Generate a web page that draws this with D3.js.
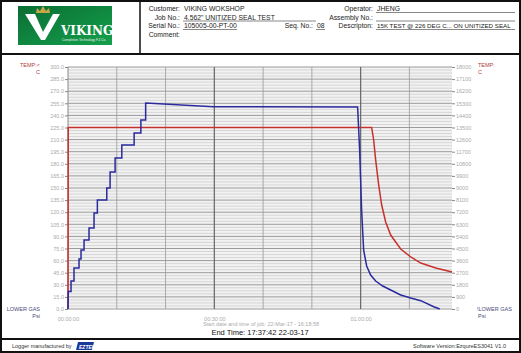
<!DOCTYPE html>
<html>
<head>
<title>Seal test chart</title>
<script src="https://d3js.org/d3.v7.min.js"></script>
<style>
	body { margin: 0; background: #fff; }
	svg { display: block; font-family: Arial, "Liberation Sans", sans-serif; }
	.tick text { fill: #aaa; font-size: 5.5px; }
	.axis .domain { display: none; }
	.axis .tick line { stroke: #888; }
	.hdr { font-size: 6.8px; fill: #222; }
</style>
</head>
<body>
<svg width="521" height="353"></svg>
<script>
var width = 521, height = 353;

// header info
var headerLeft = [
	["Customer:", "VIKING WOKSHOP"],
	["Job No.:", "4.562\" UNITIZED SEAL TEST"],
	["Serial No.:", "105005-00-PT-00"],
	["Comment:", ""]
];
var headerRight = [
	["Operator:", "JHENG"],
	["Assembly No.:", ""],
	["Descripton:", "15K TEST @ 226 DEG C... ON UNITIZED SEAL"]
];

// time in minutes from start of job
var totalMinutes = 78.73;
var timeTicks = [0, 30, 60];
var gridMinutes = [10, 20, 30, 40, 50, 60, 70];
var tempTicks = d3.range(0, 301, 15);
var psiTicks = d3.range(0, 18001, 900);

// lower gas pressure (psi, right axis)
var psiTime = [0, 0.06, 0.62, 0.62, 1.23, 1.23, 2.26, 2.26, 2.67, 2.67, 3.29, 3.29, 4.31, 4.31,
	5.34, 5.34, 6.02, 6.02, 7.95, 7.95, 8.63, 8.63, 9.66, 9.66, 11.03, 11.03, 13.56, 13.56,
	14.94, 14.94, 15.92, 15.92, 29.8, 59.38, 59.79, 60.2, 60.61, 61.23, 62.05, 63.08, 64.52, 66.16,
	68.21, 70.27, 72.32, 74.99, 76.22];
var psiValues = [0, 1300, 1300, 2080, 2080, 3050, 3050, 3720, 3720, 4390, 4390, 5130, 5130, 6025,
	6025, 7140, 7140, 8110, 8110, 9000, 9000, 10190, 10190, 11230, 11230, 12200, 12200, 13090,
	13090, 14060, 14060, 15320, 15050, 15025, 11830, 7360, 4390, 3200, 2530, 2080, 1710, 1410,
	1040, 820, 620, 170, 0];

// temperature (deg C, left axis)
var tempTime = [0, 0.05, 62.26, 62.67, 63.08, 63.7, 64.31, 65.13, 66.16, 68.21, 70.27, 72.32, 75.4, 78.73];
var tempValues = [0, 225, 225, 209.5, 184.7, 153.7, 128.9, 107.8, 91.7, 74.4, 64.5, 57, 50.8, 45.9];

var svg = d3.select('svg');

var plotL = 68, plotR = 452, plotT = 67, plotB = 309;

var x = d3.scaleLinear().domain([0, totalMinutes]).range([plotL, plotR]);
var yTemp = d3.scaleLinear().domain([0, 300]).range([plotB, plotT]);
var yPsi = d3.scaleLinear().domain([0, 18000]).range([plotB, plotT]);

function hms(m) {
	var s = Math.round(m * 60);
	var h = Math.floor(s / 3600), mm = Math.floor((s % 3600) / 60), ss = s % 60;
	return d3.format("02")(h) + ":" + d3.format("02")(mm) + ":" + d3.format("02")(ss);
}

// frame
svg.append('rect').attr('x', 1).attr('y', 1).attr('width', width - 2).attr('height', height - 2)
	.attr('fill', 'none').attr('stroke', '#111').attr('stroke-width', 2);
svg.append('line').attr('x1', 1).attr('x2', width - 1).attr('y1', 54).attr('y2', 54)
	.attr('stroke', '#111').attr('stroke-width', 2);
svg.append('line').attr('x1', 140).attr('x2', 140).attr('y1', 1).attr('y2', 54)
	.attr('stroke', '#111').attr('stroke-width', 1.5);
svg.append('line').attr('x1', 1).attr('x2', width - 1).attr('y1', 339).attr('y2', 339)
	.attr('stroke', '#111').attr('stroke-width', 2);

// logo
var grad = svg.append('defs').append('linearGradient').attr('id', 'lg')
	.attr('x1', 0).attr('y1', 0).attr('x2', 1).attr('y2', 1);
grad.append('stop').attr('offset', 0).attr('stop-color', '#0b6e34');
grad.append('stop').attr('offset', 1).attr('stop-color', '#14a04c');
var logo = svg.append('g');
logo.append('rect').attr('x', 18).attr('y', 6).attr('width', 94).attr('height', 39).attr('fill', 'url(#lg)');
logo.append('path').attr('d', 'M25,14 L35,14 L43,32 L53,14 L60,14 L45,40 L41,40 Z').attr('fill', '#fff');
logo.append('path').attr('d', 'M36,13 L37,8 L40,11 L43,6 L46,11 L49,8 L50,13 Z').attr('fill', '#c9a545');
logo.append('text').attr('x', 61).attr('y', 35).attr('fill', '#fff')
	.style('font-family', '"DejaVu Serif", "Liberation Serif", serif').style('font-weight', 'bold')
	.style('font-size', '12px').text('VIKING');
logo.append('text').attr('x', 62).attr('y', 41).attr('fill', '#e8f0e8')
	.style('font-size', '3.2px').text('Completion Technology F.Z.Co.');

// header fields
headerLeft.forEach(function(d, i) {
	var yy = 11 + i * 8.5;
	svg.append('text').attr('class', 'hdr').attr('x', 180).attr('y', yy).attr('text-anchor', 'end').text(d[0]);
	svg.append('text').attr('class', 'hdr').attr('x', 184).attr('y', yy).text(d[1]);
});
svg.append('line').attr('x1', 183).attr('x2', 316).attr('y1', 21).attr('y2', 21).attr('stroke', '#555').attr('stroke-width', 0.7);
svg.append('line').attr('x1', 183).attr('x2', 237).attr('y1', 29.5).attr('y2', 29.5).attr('stroke', '#555').attr('stroke-width', 0.7);
svg.append('text').attr('class', 'hdr').attr('x', 313).attr('y', 28).attr('text-anchor', 'end').text('Seq. No.:');
svg.append('text').attr('class', 'hdr').attr('x', 317).attr('y', 28).text('08');
svg.append('line').attr('x1', 316).attr('x2', 325).attr('y1', 29.5).attr('y2', 29.5).attr('stroke', '#555').attr('stroke-width', 0.7);

headerRight.forEach(function(d, i) {
	var yy = 11 + i * 8.5;
	svg.append('text').attr('class', 'hdr').attr('x', 373).attr('y', yy).attr('text-anchor', 'end').text(d[0]);
	var t = svg.append('text').attr('class', 'hdr').attr('x', 377).attr('y', yy).text(d[1]);
	if (d[1].length > 30) t.style('font-size', '6.2px');
	svg.append('line').attr('x1', 376).attr('x2', 515).attr('y1', yy + 1.5).attr('y2', yy + 1.5)
		.attr('stroke', '#555').attr('stroke-width', 0.7);
});

// plot background and grid
svg.append('rect').attr('x', plotL).attr('y', plotT).attr('width', plotR - plotL).attr('height', plotB - plotT)
	.attr('fill', '#f2f2f2');
var minor = d3.range(0, 300, 3.75).filter(function(v) { return v % 15 !== 0; });
svg.append('g').selectAll('line').data(minor).enter().append('line')
	.attr('x1', plotL).attr('x2', plotR)
	.attr('y1', function(d) { return yTemp(d); }).attr('y2', function(d) { return yTemp(d); })
	.attr('stroke', '#c8c8c8').attr('stroke-width', 0.7);
svg.append('g').selectAll('line').data(tempTicks).enter().append('line')
	.attr('x1', plotL).attr('x2', plotR)
	.attr('y1', function(d) { return yTemp(d); }).attr('y2', function(d) { return yTemp(d); })
	.attr('stroke', '#9a9a9a').attr('stroke-width', 1);
svg.append('g').selectAll('line').data(gridMinutes).enter().append('line')
	.attr('x1', function(d) { return x(d); }).attr('x2', function(d) { return x(d); })
	.attr('y1', plotT).attr('y2', plotB)
	.attr('stroke', function(d) { return d % 30 === 0 ? '#666' : '#999'; })
	.attr('stroke-width', function(d) { return d % 30 === 0 ? 1.2 : 0.8; });
svg.append('line').attr('x1', plotL).attr('x2', plotL).attr('y1', plotT).attr('y2', plotB)
	.attr('stroke', '#888').attr('stroke-width', 1);

// axes
svg.append('g').attr('class', 'axis').attr('transform', 'translate(' + plotL + ',0)')
	.call(d3.axisLeft(yTemp).tickValues(tempTicks).tickFormat(d3.format('.1f')).tickSize(3).tickPadding(1));
svg.append('g').attr('class', 'axis').attr('transform', 'translate(' + plotR + ',0)')
	.call(d3.axisRight(yPsi).tickValues(psiTicks).tickFormat(d3.format('d')).tickSize(3).tickPadding(1));
svg.append('g').attr('class', 'axis').attr('transform', 'translate(0,' + (plotB + 3) + ')')
	.call(d3.axisBottom(x).tickValues(timeTicks).tickFormat(hms).tickSize(0).tickPadding(5));

// series
var tempLine = d3.line()
	.x(function(d) { return x(d[0]); })
	.y(function(d) { return yTemp(d[1]); });
var psiLine = d3.line()
	.x(function(d) { return x(d[0]); })
	.y(function(d) { return yPsi(d[1]); });

svg.append('path').datum(d3.zip(tempTime, tempValues)).attr('d', tempLine)
	.attr('fill', 'none').attr('stroke', '#c8302c').attr('stroke-width', 1.5);
svg.append('path').datum(d3.zip(psiTime, psiValues)).attr('d', psiLine)
	.attr('fill', 'none').attr('stroke', '#2a2a9e').attr('stroke-width', 1.5);

// axis titles
var red = '#b04040', blue = '#4a4a7a';
svg.append('text').attr('x', 40).attr('y', 67).attr('text-anchor', 'end').attr('fill', red).style('font-size', '5.5px').text('TEMP:<');
svg.append('text').attr('x', 40).attr('y', 74).attr('text-anchor', 'end').attr('fill', red).style('font-size', '5.5px').text('C');
svg.append('text').attr('x', 478).attr('y', 67).attr('fill', red).style('font-size', '5.5px').text('TEMP:');
svg.append('text').attr('x', 478).attr('y', 74).attr('fill', red).style('font-size', '5.5px').text('C');
svg.append('text').attr('x', 40).attr('y', 311).attr('text-anchor', 'end').attr('fill', blue).style('font-size', '5.5px').text('LOWER GAS');
svg.append('text').attr('x', 40).attr('y', 318).attr('text-anchor', 'end').attr('fill', blue).style('font-size', '5.5px').text('Psi');
svg.append('text').attr('x', 477).attr('y', 311).attr('fill', blue).style('font-size', '5.5px').text('!LOWER GAS');
svg.append('text').attr('x', 478).attr('y', 318).attr('fill', blue).style('font-size', '5.5px').text('Psi');

svg.append('text').attr('x', 261).attr('y', 326).attr('text-anchor', 'middle').attr('fill', '#aaa')
	.style('font-size', '5.5px').text('Start date and time of job: 22-Mar-17 - 16:18:58');
svg.append('text').attr('x', 260).attr('y', 335).attr('text-anchor', 'middle').attr('fill', '#111')
	.style('font-size', '7.5px').text('End Time: 17:37:42 22-03-17');

// footer
svg.append('text').attr('x', 12).attr('y', 348).attr('fill', '#333').style('font-size', '5.5px').text('Logger manufactured by');
svg.append('path').attr('d', 'M78,342 L94,342 L92,350 L76,350 Z').attr('fill', '#1a3a9a');
svg.append('text').attr('x', 79).attr('y', 348.5).attr('fill', '#fff').style('font-size', '5px')
	.style('font-style', 'italic').style('font-weight', 'bold').text('EZTEK');
svg.append('text').attr('x', 506).attr('y', 348).attr('text-anchor', 'end').attr('fill', '#333')
	.style('font-size', '5.5px').text('Software Version:EzqureES3041 V1.0');
</script>
</body>
</html>
